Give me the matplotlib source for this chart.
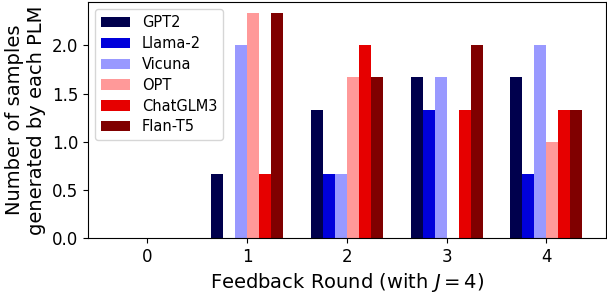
import numpy as np
import matplotlib
matplotlib.use("Agg")
import matplotlib.pyplot as plt

rounds = [0, 1, 2, 3, 4]
models = ["GPT2", "Llama-2", "Vicuna", "OPT", "ChatGLM3", "Flan-T5"]
# samples per PLM at each feedback round
gpt2 = [0, 2/3, 4/3, 5/3, 5/3]
llama2 = [0, 0, 2/3, 4/3, 2/3]
vicuna = [0, 2, 2/3, 5/3, 2]
opt = [0, 7/3, 5/3, 0, 1]
chatglm3 = [0, 2/3, 2, 4/3, 4/3]
flant5 = [0, 7/3, 5/3, 2, 4/3]
series = [gpt2, llama2, vicuna, opt, chatglm3, flant5]

colors = plt.cm.seismic(np.linspace(0, 1, len(models)))

fig = plt.figure(figsize=(6.07, 2.93), dpi=100)
ax = fig.add_axes([0.145, 0.188, 0.853, 0.805])

x = np.arange(len(rounds))
w = 0.12
for i, (name, vals) in enumerate(zip(models, series)):
    ax.bar(x + (i - 2.5) * w, vals, w, color=colors[i], label=name)

ax.set_xticks(x)
ax.set_xticklabels([str(r) for r in rounds])
ax.tick_params(labelsize=12)
ax.set_xlabel("Feedback Round (with $J=4$)", fontsize=14)
ax.set_ylabel("Number of samples\ngenerated by each PLM", fontsize=14)
ax.legend(loc="upper left", fontsize=10.5, labelspacing=0.4)

fig.savefig("out.png", dpi=100)
